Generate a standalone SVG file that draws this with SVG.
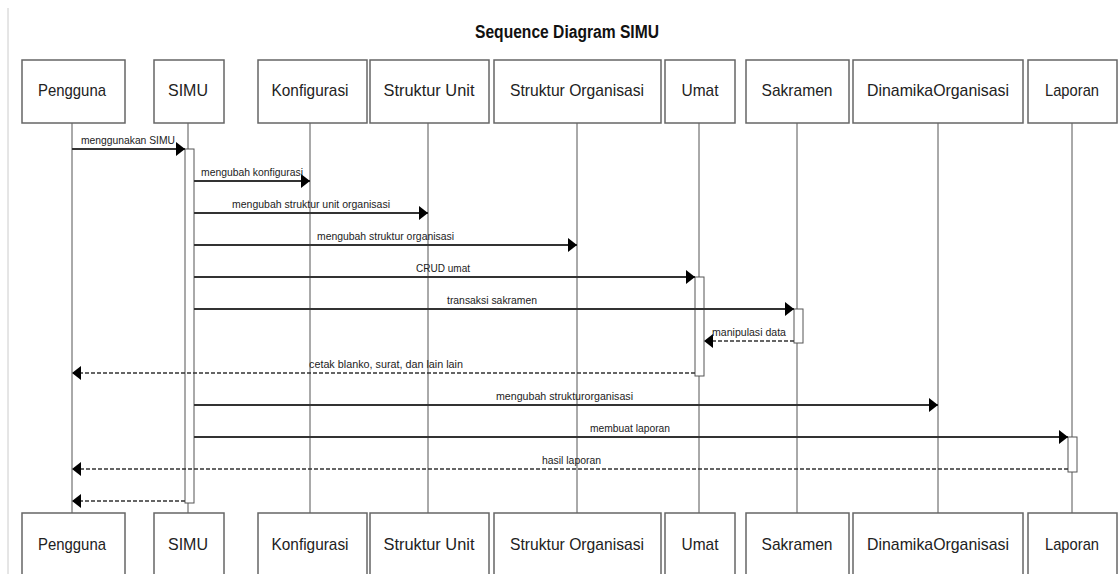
<svg xmlns="http://www.w3.org/2000/svg" width="1119" height="574" viewBox="0 0 1119 574">
<defs>
<style>
.bx{fill:#fff;stroke:#666;stroke-width:1.5}
.bl{font-family:"Liberation Sans Narrow","Liberation Sans",Arial,sans-serif;font-size:17px;fill:#222;text-anchor:middle}
.ll{stroke:#555;stroke-width:1;fill:none}
.act{fill:#fff;stroke:#555;stroke-width:1}
.msg{stroke:#333;stroke-width:1.8;fill:none;marker-end:url(#ah)}
.ret{stroke:#333;stroke-width:1.6;fill:none;stroke-dasharray:4 2;marker-end:url(#ah)}
.ml{font-family:"Liberation Sans Narrow","Liberation Sans",Arial,sans-serif;font-size:10.5px;fill:#222}
.ttl{font-family:"Liberation Sans Narrow","Liberation Sans",Arial,sans-serif;font-size:18px;font-weight:bold;fill:#111;text-anchor:middle}
</style>
<marker id="ah" markerUnits="userSpaceOnUse" markerWidth="10" markerHeight="16" refX="9" refY="7" orient="auto" viewBox="0 0 10 14">
<path d="M0,0 L9,7 L0,14 z" fill="#000"/>
</marker>
</defs>
<rect x="0" y="0" width="1119" height="574" fill="#fff"/>
<line x1="8" y1="8" x2="8" y2="574" stroke="#ccc" stroke-width="1"/>
<text class="ttl" x="567" y="38" textLength="184" lengthAdjust="spacingAndGlyphs">Sequence Diagram SIMU</text>

<g id="lifelines">
<line class="ll" x1="72" y1="123" x2="72" y2="513"/>
<line class="ll" x1="188" y1="123" x2="188" y2="513"/>
<line class="ll" x1="310" y1="123" x2="310" y2="513"/>
<line class="ll" x1="428" y1="123" x2="428" y2="513"/>
<line class="ll" x1="577" y1="123" x2="577" y2="513"/>
<line class="ll" x1="699" y1="123" x2="699" y2="513"/>
<line class="ll" x1="797" y1="123" x2="797" y2="513"/>
<line class="ll" x1="938" y1="123" x2="938" y2="513"/>
<line class="ll" x1="1072" y1="123" x2="1072" y2="513"/>
</g>

<g id="node-pengguna">
<rect class="bx" x="22" y="60" width="103" height="63"/><text class="bl" x="72" y="96" textLength="68" lengthAdjust="spacingAndGlyphs">Pengguna</text>
<rect class="bx" x="22" y="513" width="103" height="70"/><text class="bl" x="72" y="550" textLength="68" lengthAdjust="spacingAndGlyphs">Pengguna</text>
</g>
<g id="node-simu">
<rect class="bx" x="154" y="60" width="70" height="63"/><text class="bl" x="188" y="96" textLength="40" lengthAdjust="spacingAndGlyphs">SIMU</text>
<rect class="bx" x="154" y="513" width="70" height="70"/><text class="bl" x="188" y="550" textLength="40" lengthAdjust="spacingAndGlyphs">SIMU</text>
<rect class="act" x="185" y="149" width="9" height="354"/>
</g>
<g id="node-konfigurasi">
<rect class="bx" x="258" y="60" width="109" height="63"/><text class="bl" x="310" y="96" textLength="77" lengthAdjust="spacingAndGlyphs">Konfigurasi</text>
<rect class="bx" x="258" y="513" width="109" height="70"/><text class="bl" x="310" y="550" textLength="77" lengthAdjust="spacingAndGlyphs">Konfigurasi</text>
</g>
<g id="node-struktur-unit">
<rect class="bx" x="370" y="60" width="119" height="63"/><text class="bl" x="429" y="96" textLength="91" lengthAdjust="spacingAndGlyphs">Struktur Unit</text>
<rect class="bx" x="370" y="513" width="119" height="70"/><text class="bl" x="429" y="550" textLength="91" lengthAdjust="spacingAndGlyphs">Struktur Unit</text>
</g>
<g id="node-struktur-organisasi">
<rect class="bx" x="494" y="60" width="167" height="63"/><text class="bl" x="577" y="96" textLength="134" lengthAdjust="spacingAndGlyphs">Struktur Organisasi</text>
<rect class="bx" x="494" y="513" width="167" height="70"/><text class="bl" x="577" y="550" textLength="134" lengthAdjust="spacingAndGlyphs">Struktur Organisasi</text>
</g>
<g id="node-umat">
<rect class="bx" x="665" y="60" width="70" height="63"/><text class="bl" x="700" y="96" textLength="37" lengthAdjust="spacingAndGlyphs">Umat</text>
<rect class="bx" x="665" y="513" width="70" height="70"/><text class="bl" x="700" y="550" textLength="37" lengthAdjust="spacingAndGlyphs">Umat</text>
<rect class="act" x="695" y="277" width="9" height="99"/>
</g>
<g id="node-sakramen">
<rect class="bx" x="746" y="60" width="103" height="63"/><text class="bl" x="797" y="96" textLength="71" lengthAdjust="spacingAndGlyphs">Sakramen</text>
<rect class="bx" x="746" y="513" width="103" height="70"/><text class="bl" x="797" y="550" textLength="71" lengthAdjust="spacingAndGlyphs">Sakramen</text>
<rect class="act" x="794" y="309" width="9" height="34"/>
</g>
<g id="node-dinamika-organisasi">
<rect class="bx" x="853" y="60" width="170" height="63"/><text class="bl" x="938" y="96" textLength="142" lengthAdjust="spacingAndGlyphs">DinamikaOrganisasi</text>
<rect class="bx" x="853" y="513" width="170" height="70"/><text class="bl" x="938" y="550" textLength="142" lengthAdjust="spacingAndGlyphs">DinamikaOrganisasi</text>
</g>
<g id="node-laporan">
<rect class="bx" x="1028" y="60" width="89" height="63"/><text class="bl" x="1072" y="96" textLength="54" lengthAdjust="spacingAndGlyphs">Laporan</text>
<rect class="bx" x="1028" y="513" width="89" height="70"/><text class="bl" x="1072" y="550" textLength="54" lengthAdjust="spacingAndGlyphs">Laporan</text>
<rect class="act" x="1068" y="437" width="9" height="35"/>
</g>

<g id="connectors">
<line class="msg" x1="72" y1="149" x2="185" y2="149"/>
<text class="ml" x="81" y="144" textLength="94" lengthAdjust="spacingAndGlyphs">menggunakan SIMU</text>
<line class="msg" x1="194" y1="181" x2="310" y2="181"/>
<text class="ml" x="201" y="176" textLength="102" lengthAdjust="spacingAndGlyphs">mengubah konfigurasi</text>
<line class="msg" x1="194" y1="213" x2="428" y2="213"/>
<text class="ml" x="232" y="208" textLength="158" lengthAdjust="spacingAndGlyphs">mengubah struktur unit organisasi</text>
<line class="msg" x1="194" y1="245" x2="577" y2="245"/>
<text class="ml" x="317" y="240" textLength="137" lengthAdjust="spacingAndGlyphs">mengubah struktur organisasi</text>
<line class="msg" x1="194" y1="277" x2="695" y2="277"/>
<text class="ml" x="416" y="272" textLength="54" lengthAdjust="spacingAndGlyphs">CRUD umat</text>
<line class="msg" x1="194" y1="309" x2="794" y2="309"/>
<text class="ml" x="447" y="304" textLength="90" lengthAdjust="spacingAndGlyphs">transaksi sakramen</text>
<line class="ret" x1="794" y1="341" x2="704" y2="341"/>
<text class="ml" x="712" y="336" textLength="74" lengthAdjust="spacingAndGlyphs">manipulasi data</text>
<line class="ret" x1="695" y1="373" x2="72" y2="373"/>
<text class="ml" x="309" y="368" textLength="154" lengthAdjust="spacingAndGlyphs">cetak blanko, surat, dan lain lain</text>
<line class="msg" x1="194" y1="405" x2="938" y2="405"/>
<text class="ml" x="496" y="400" textLength="137" lengthAdjust="spacingAndGlyphs">mengubah strukturorganisasi</text>
<line class="msg" x1="194" y1="437" x2="1068" y2="437"/>
<text class="ml" x="590" y="432" textLength="80" lengthAdjust="spacingAndGlyphs">membuat laporan</text>
<line class="ret" x1="1068" y1="469" x2="72" y2="469"/>
<text class="ml" x="542" y="464" textLength="59" lengthAdjust="spacingAndGlyphs">hasil laporan</text>
<line class="ret" x1="185" y1="501" x2="72" y2="501"/>
</g>
</svg>
